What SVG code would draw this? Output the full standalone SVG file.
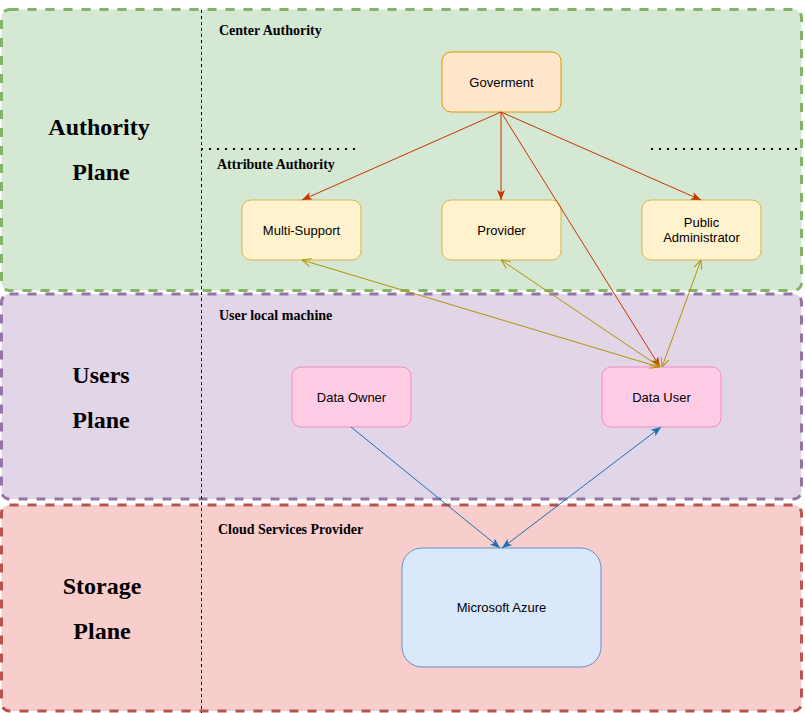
<svg xmlns="http://www.w3.org/2000/svg" width="805" height="713" viewBox="0 0 805 713">
<style>
.plane{stroke-width:3;stroke-dasharray:9 9}
.big{font-family:"Liberation Serif",serif;font-weight:bold;font-size:24px;fill:#000;text-anchor:middle}
.sec{font-family:"Liberation Serif",serif;font-weight:bold;font-size:14px;fill:#000}
.nt{font-family:"Liberation Sans",Arial,sans-serif;font-size:13px;fill:#000;text-anchor:middle}
.red{stroke:#c73500;stroke-width:1;fill:none}
.gold{stroke:#b09500;stroke-width:1;fill:none}
.blue{stroke:#1473b8;stroke-width:1;fill:none}
</style>
<defs>
<marker id="mRed" viewBox="0 0 10 10" refX="10" refY="5" markerWidth="10" markerHeight="10" markerUnits="userSpaceOnUse" orient="auto-start-reverse"><path d="M0,1 L10,5 L0,9 L2.5,5 z" fill="#c73500"/></marker>
<marker id="mGold" viewBox="0 0 10 10" refX="10" refY="5" markerWidth="10" markerHeight="10" markerUnits="userSpaceOnUse" orient="auto-start-reverse"><path d="M1,1 L10,5 L1,9" fill="none" stroke="#b09500" stroke-width="1"/></marker>
<marker id="mBlue" viewBox="0 0 10 10" refX="10" refY="5" markerWidth="10" markerHeight="10" markerUnits="userSpaceOnUse" orient="auto-start-reverse"><path d="M0,1 L10,5 L0,9 L2.5,5 z" fill="#1473b8"/></marker>
</defs>

<g id="authority-plane">
<rect class="plane" x="1.5" y="9.5" width="800" height="281" rx="8" fill="#d5e8d4" stroke="#82b366"/>
<text class="big" x="99" y="135">Authority</text>
<text class="big" x="101" y="180">Plane</text>
<text class="sec" x="219" y="35">Center Authority</text>
<text class="sec" x="217" y="169">Attribute Authority</text>
</g>
<g id="users-plane">
<rect class="plane" x="1.5" y="294" width="800" height="205" rx="8" fill="#e1d5e7" stroke="#9673a6"/>
<text class="big" x="101" y="383">Users</text>
<text class="big" x="101" y="428">Plane</text>
<text class="sec" x="219" y="320">User local machine</text>
</g>
<g id="storage-plane">
<rect class="plane" x="1.5" y="505" width="800" height="206" rx="8" fill="#f8cecc" stroke="#b85450"/>
<text class="big" x="102" y="594">Storage</text>
<text class="big" x="102" y="639">Plane</text>
<text class="sec" x="218" y="534">Cloud Services Provider</text>
</g>
<g id="separators" stroke="#000" fill="none">
<line x1="201.5" y1="10" x2="201.5" y2="713" stroke-dasharray="3 3" stroke-width="1"/>
<line x1="201" y1="149" x2="356" y2="149" stroke-dasharray="2 6" stroke-width="2"/>
<line x1="651" y1="149" x2="800" y2="149" stroke-dasharray="2 6" stroke-width="2"/>
</g>

<g id="goverment">
<rect x="442" y="52" width="119" height="60" rx="9" fill="#ffe6cc" stroke="#d79b00"/>
<text class="nt" x="501.5" y="86.5">Goverment</text>
</g>
<g id="multi-support">
<rect x="242" y="200" width="119" height="60" rx="9" fill="#fff2cc" stroke="#d6b656"/>
<text class="nt" x="301.5" y="234.5">Multi-Support</text>
</g>
<g id="provider">
<rect x="442" y="200" width="119" height="60" rx="9" fill="#fff2cc" stroke="#d6b656"/>
<text class="nt" x="501.5" y="234.5">Provider</text>
</g>
<g id="public-administrator">
<rect x="642" y="200" width="119" height="60" rx="9" fill="#fff2cc" stroke="#d6b656"/>
<text class="nt" x="701.5" y="227">Public</text>
<text class="nt" x="701.5" y="242">Administrator</text>
</g>
<g id="data-owner">
<rect x="292" y="367" width="119" height="60" rx="9" fill="#ffcce6" stroke="#f28cc0"/>
<text class="nt" x="351.5" y="401.5">Data Owner</text>
</g>
<g id="data-user">
<rect x="602" y="367" width="119" height="60" rx="9" fill="#ffcce6" stroke="#f28cc0"/>
<text class="nt" x="661.5" y="401.5">Data User</text>
</g>
<g id="microsoft-azure">
<rect x="402" y="548" width="199" height="119" rx="20" fill="#dae8fc" stroke="#6c8ebf"/>
<text class="nt" x="501.5" y="611.5">Microsoft Azure</text>
</g>

<g id="connectors">
<line class="red" x1="501" y1="112" x2="302" y2="200" marker-end="url(#mRed)"/>
<line class="red" x1="501" y1="112" x2="501" y2="200" marker-end="url(#mRed)"/>
<line class="red" x1="501" y1="112" x2="701" y2="200" marker-end="url(#mRed)"/>
<line class="red" x1="501" y1="112" x2="660" y2="367" marker-end="url(#mRed)"/>
<line class="gold" x1="302" y1="260" x2="659" y2="367" marker-start="url(#mGold)" marker-end="url(#mGold)"/>
<line class="gold" x1="501" y1="260" x2="660" y2="367" marker-start="url(#mGold)" marker-end="url(#mGold)"/>
<line class="gold" x1="701" y1="260" x2="662" y2="367" marker-start="url(#mGold)" marker-end="url(#mGold)"/>
<line class="blue" x1="351" y1="427" x2="500" y2="548" marker-end="url(#mBlue)"/>
<line class="blue" x1="661" y1="427" x2="502" y2="548" marker-start="url(#mBlue)" marker-end="url(#mBlue)"/>
</g>
</svg>
